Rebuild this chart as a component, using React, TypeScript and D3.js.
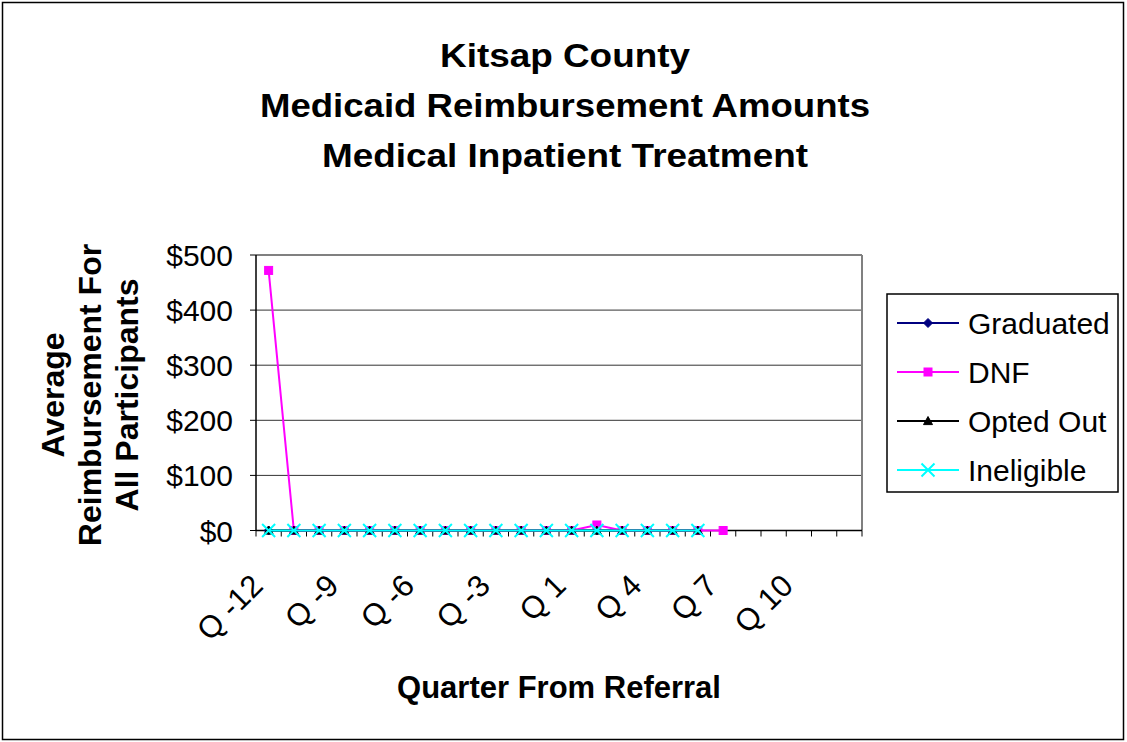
import React from "react";
import * as d3 from "d3";

// Quarters relative to referral (no Q 0)
const quarters: string[] = [
  "Q -12", "Q -11", "Q -10", "Q -9", "Q -8", "Q -7", "Q -6", "Q -5", "Q -4", "Q -3", "Q -2", "Q -1",
  "Q 1", "Q 2", "Q 3", "Q 4", "Q 5", "Q 6", "Q 7", "Q 8", "Q 9", "Q 10", "Q 11", "Q 12",
];

// Every third quarter is labelled on the axis
const tickLabels: string[] = ["Q -12", "Q -9", "Q -6", "Q -3", "Q 1", "Q 4", "Q 7", "Q 10"];

const yTicks: number[] = [0, 100, 200, 300, 400, 500];

type V = number | null;

const graduated: V[] = [0, 0, 0, 0, 0, 0, 0, 0, 0, 0, 0, 0, 0, 0, 0, 0, 0, 0, null, null, null, null, null, null];
const dnf: V[] = [472, 0, 0, 0, 0, 0, 0, 0, 0, 0, 0, 0, 0, 10, 0, 0, 0, 0, 0, null, null, null, null, null];
const optedOut: V[] = [0, 0, 0, 0, 0, 0, 0, 0, 0, 0, 0, 0, 0, 0, 0, 0, 0, 0, null, null, null, null, null, null];
const ineligible: V[] = [0, 0, 0, 0, 0, 0, 0, 0, 0, 0, 0, 0, 0, 0, 0, 0, 0, 0, null, null, null, null, null, null];

const seriesNames: string[] = ["Graduated", "DNF", "Opted Out", "Ineligible"];
const seriesColors: string[] = ["#000080", "#FF00FF", "#000000", "#00FFFF"];
const seriesMarkers: string[] = ["diamond", "square", "triangle", "x"];
const seriesValues: V[][] = [graduated, dnf, optedOut, ineligible];

const W = 1127;
const H = 742;
const plot = { left: 256, right: 862, top: 255, bottom: 530.5 };
const FONT = "'Liberation Sans', Arial, Helvetica, sans-serif";

function Marker({ kind, x, y, color }: { kind: string; x: number; y: number; color: string }) {
  if (kind === "diamond") {
    const r = 4.5;
    return <path d={`M${x},${y - r}L${x + r},${y}L${x},${y + r}L${x - r},${y}Z`} fill={color} stroke={color} strokeWidth={1} />;
  }
  if (kind === "square") {
    return <rect x={x - 4} y={y - 4} width={8} height={8} fill={color} stroke={color} strokeWidth={1} />;
  }
  if (kind === "triangle") {
    const r = 4.5;
    return <path d={`M${x},${y - r}L${x + r},${y + r * 0.8}L${x - r},${y + r * 0.8}Z`} fill={color} stroke={color} strokeWidth={1} />;
  }
  const r = 6.5;
  return (
    <path
      d={`M${x - r},${y - r}L${x + r},${y + r}M${x - r},${y + r}L${x + r},${y - r}`}
      stroke={color}
      strokeWidth={2}
      fill="none"
    />
  );
}

export default function App() {
  const x = d3.scaleBand<string>().domain(quarters).range([plot.left, plot.right]).padding(0);
  const y = d3.scaleLinear().domain([0, 500]).range([plot.bottom, plot.top]);
  const cx = (q: string) => (x(q) as number) + x.bandwidth() / 2;

  const line = d3
    .line<V>()
    .defined((d) => d != null)
    .x((_, i) => cx(quarters[i]))
    .y((d) => y(d as number));

  const fmt = (v: number) => "$" + d3.format(",")(v);

  const legendX = 887;
  const legendY = 294;
  const legendRowY = (i: number) => 323 + i * 49;

  return (
    <svg
      width={W}
      height={H}
      style={{ position: "absolute", left: 0, top: 0, background: "#fff" }}
      fontFamily={FONT}
    >
      <rect x={0} y={0} width={W} height={H} fill="#fff" />
      <rect x={2.5} y={2.5} width={1121} height={737} fill="none" stroke="#000" strokeWidth={1.5} />

      {/* Title */}
      <g fontWeight="bold" fontSize={34} textAnchor="middle" fill="#000">
        <text x={565} y={67} textLength={250} lengthAdjust="spacingAndGlyphs">Kitsap County</text>
        <text x={565} y={117} textLength={610} lengthAdjust="spacingAndGlyphs">Medicaid Reimbursement Amounts</text>
        <text x={565} y={167} textLength={486} lengthAdjust="spacingAndGlyphs">Medical Inpatient Treatment</text>
      </g>

      {/* Plot area */}
      <rect x={plot.left} y={plot.top} width={plot.right - plot.left} height={plot.bottom - plot.top} fill="#fff" />

      {/* Gridlines */}
      {yTicks.filter((t) => t > 0 && t < 500).map((t) => (
        <line key={t} x1={plot.left} x2={plot.right} y1={y(t)} y2={y(t)} stroke="#333" strokeWidth={1} />
      ))}
      {/* Plot border (top and right) */}
      <line x1={plot.left} x2={plot.right} y1={plot.top} y2={plot.top} stroke="#808080" strokeWidth={2} />
      <line x1={plot.right} x2={plot.right} y1={plot.top} y2={plot.bottom} stroke="#808080" strokeWidth={2} />

      {/* Y axis */}
      <line x1={plot.left} x2={plot.left} y1={plot.top} y2={plot.bottom} stroke="#000" strokeWidth={1.5} />
      {yTicks.map((t) => (
        <g key={t}>
          <line x1={plot.left - 6} x2={plot.left} y1={y(t)} y2={y(t)} stroke="#000" strokeWidth={1} />
          <text x={233} y={y(t) + 11} textAnchor="end" fontSize={30} fill="#000">
            {fmt(t)}
          </text>
        </g>
      ))}

      {/* X axis */}
      <line x1={plot.left} x2={plot.right} y1={plot.bottom} y2={plot.bottom} stroke="#000" strokeWidth={1.5} />
      {d3.range(quarters.length + 1).map((i) => {
        const xx = plot.left + i * x.bandwidth();
        return <line key={i} x1={xx} x2={xx} y1={plot.bottom} y2={plot.bottom + 6} stroke="#000" strokeWidth={1} />;
      })}
      {tickLabels.map((q) => (
        <text
          key={q}
          transform={`translate(${cx(q) - 4},${plot.bottom + 57}) rotate(-45)`}
          textAnchor="end"
          fontSize={31}
          fill="#000"
        >
          {q}
        </text>
      ))}

      {/* Series */}
      {seriesValues.map((vals, si) => (
        <g key={seriesNames[si]}>
          <path d={line(vals) || ""} fill="none" stroke={seriesColors[si]} strokeWidth={2} />
          {vals.map((v, i) =>
            v == null ? null : (
              <Marker key={i} kind={seriesMarkers[si]} x={cx(quarters[i])} y={y(v)} color={seriesColors[si]} />
            )
          )}
        </g>
      ))}

      {/* Axis titles */}
      <text x={559} y={698} textAnchor="middle" fontWeight="bold" fontSize={31} fill="#000">
        Quarter From Referral
      </text>
      <g transform="translate(0,395) rotate(-90)" fontWeight="bold" fontSize={32} textAnchor="middle" fill="#000">
        <text x={0} y={64}>Average</text>
        <text x={0} y={101}>Reimbursement For</text>
        <text x={0} y={138}>All Participants</text>
      </g>

      {/* Legend */}
      <rect x={legendX} y={legendY} width={231} height={198} fill="#fff" stroke="#000" strokeWidth={1.5} />
      {seriesNames.map((n, i) => (
        <g key={n}>
          <line x1={897} x2={959} y1={legendRowY(i)} y2={legendRowY(i)} stroke={seriesColors[i]} strokeWidth={2} />
          <Marker kind={seriesMarkers[i]} x={928} y={legendRowY(i)} color={seriesColors[i]} />
          <text x={968} y={legendRowY(i) + 11} fontSize={30} fill="#000">
            {n}
          </text>
        </g>
      ))}
    </svg>
  );
}
